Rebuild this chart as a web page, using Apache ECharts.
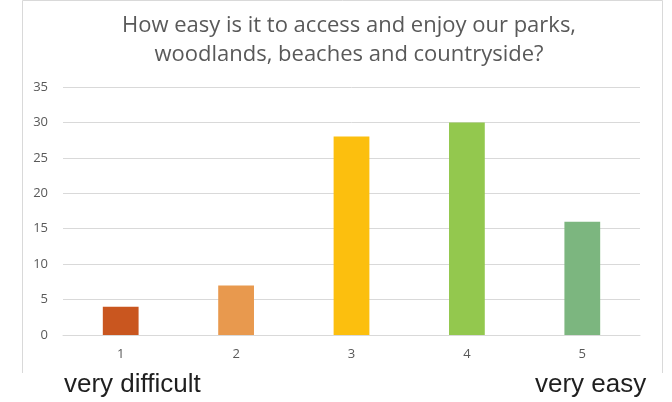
<!DOCTYPE html>
<html>
<head>
<meta charset="utf-8">
<script src="https://cdn.jsdelivr.net/npm/echarts@6/dist/echarts.min.js"></script>
<style>html,body{margin:0;padding:0;background:#fff;}#c{width:672px;height:402px;}</style>
</head>
<body>
<div id="c"></div>
<script>
const titleText = "How easy is it to access and enjoy our parks,\nwoodlands, beaches and countryside?";
const categories = ["1", "2", "3", "4", "5"];
const values = [4, 7, 28, 30, 16];
const barColors = ["#C9561F", "#E8994E", "#FCBF0E", "#93C84E", "#7CB67F"];
const yTicks = { min: 0, max: 35, interval: 5 };
const leftNote = "very difficult";
const rightNote = "very easy";

const chart = echarts.init(document.getElementById('c'));
chart.setOption({
  animation: false,
  backgroundColor: '#fff',
  title: {
    text: titleText,
    left: 344, top: 6, textAlign: 'center',
    textStyle: { fontFamily: 'Open Sans', fontSize: 22, fontWeight: 'normal', color: '#595959', lineHeight: 29 }
  },
  grid: { left: 63, right: 32, top: 87, bottom: 67 },
  xAxis: {
    type: 'category', data: categories,
    axisLine: { show: true, lineStyle: { color: '#D9D9D9' } },
    axisTick: { show: false },
    axisLabel: { color: '#595959', fontSize: 13, margin: 13, fontFamily: 'Open Sans' }
  },
  yAxis: {
    type: 'value', min: yTicks.min, max: yTicks.max, interval: yTicks.interval,
    axisLine: { show: false }, axisTick: { show: false },
    axisLabel: { color: '#595959', fontSize: 13, margin: 15, fontFamily: 'Open Sans' },
    splitLine: { lineStyle: { color: '#D9D9D9' } }
  },
  series: [{
    type: 'bar',
    data: values.map((v, i) => ({ value: v, itemStyle: { color: barColors[i] } })),
    barWidth: '31%'
  }],
  graphic: [
    { type: 'polyline', shape: { points: [[22.5, 373], [22.5, 0.5], [662.5, 0.5], [662.5, 373]] }, style: { fill: 'none', stroke: '#D9D9D9', lineWidth: 1 }, silent: true },
    { type: 'text', left: 64, top: 372, style: { text: leftNote, fontFamily: 'Liberation Sans', fontSize: 26, fill: '#1f1f1f' } },
    { type: 'text', left: 535, top: 372, style: { text: rightNote, fontFamily: 'Liberation Sans', fontSize: 26, fill: '#1f1f1f' } }
  ]
});
</script>
</body>
</html>
